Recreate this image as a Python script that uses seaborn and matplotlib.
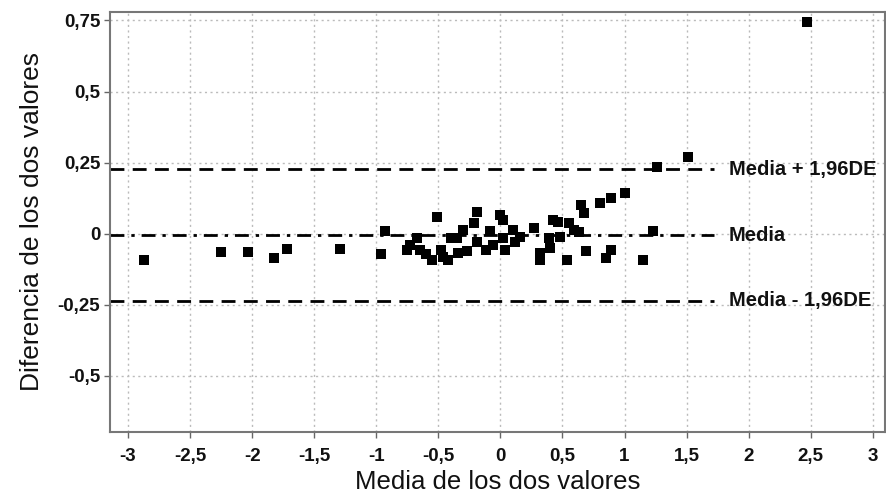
import matplotlib
matplotlib.use("Agg")
import matplotlib.pyplot as plt
import seaborn as sns
import pandas as pd

# mean of the two values (x) and difference (y)
media = [-2.87, -2.25, -2.03, -1.82, -1.72, -1.29, -0.96, -0.93,
         -0.75, -0.73, -0.67, -0.65, -0.60, -0.55, -0.51, -0.48,
         -0.46, -0.42, -0.40, -0.35, -0.34, -0.30, -0.27, -0.21,
         -0.19, -0.19, -0.12, -0.08, -0.06, 0.00, 0.02, 0.02,
         0.04, 0.10, 0.12, 0.16, 0.27, 0.32, 0.32, 0.39,
         0.40, 0.42, 0.46, 0.48, 0.54, 0.55, 0.59, 0.63,
         0.65, 0.67, 0.69, 0.80, 0.89, 1.00, 0.89, 0.85,
         1.15, 1.26, 1.51, 1.23, 2.47]
diferencia = [-0.092, -0.063, -0.063, -0.085, -0.053, -0.053, -0.070, 0.011,
              -0.056, -0.039, -0.014, -0.056, -0.070, -0.092, 0.060, -0.056,
              -0.081, -0.092, -0.014, -0.014, -0.067, 0.014, -0.060, 0.039,
              0.077, -0.028, -0.056, 0.011, -0.039, 0.067, 0.049, -0.014,
              -0.056, 0.014, -0.028, -0.011, 0.021, -0.067, -0.092, -0.014,
              -0.049, 0.049, 0.042, -0.011, -0.092, 0.039, 0.014, 0.007,
              0.102, 0.074, -0.060, 0.109, 0.127, 0.144, -0.056, -0.085,
              -0.092, 0.236, 0.268, 0.011, 0.743]

lineas = [0.226, -0.005, -0.236]
etiquetas = ["Media + 1,96DE", "Media", "Media - 1,96DE"]
estilos = [(0, (5, 3)), (0, (5, 2.5, 1.2, 2.5)), (0, (5, 3))]

x_ticks = [-3, -2.5, -2, -1.5, -1, -0.5, 0, 0.5, 1, 1.5, 2, 2.5, 3]
y_ticks = [0.75, 0.5, 0.25, 0, -0.25, -0.5]

df = pd.DataFrame({"media": media, "diferencia": diferencia})

sns.set_style("whitegrid")
plt.rcParams["font.family"] = ["Liberation Sans", "DejaVu Sans"]

fig = plt.figure(figsize=(8.87, 4.98), dpi=100)
ax = fig.add_axes([0.124, 0.133, 0.874, 0.843])

sns.scatterplot(
    data=df,
    x="media",
    y="diferencia",
    marker="s",
    s=55,
    color="black",
    edgecolor="black",
    linewidth=0,
    ax=ax,
    zorder=3
)

for val, lab, ls in zip(lineas, etiquetas, estilos):
    ax.plot([-3.145, 1.72], [val, val], color="black", lw=2.0,
            linestyle=ls, zorder=2)
    ax.text(1.84, val, lab, ha="left", va="center",
            fontsize=14.5, fontweight="bold", color="#111111")

ax.set_xlim(-3.145, 3.1)
ax.set_ylim(-0.697, 0.78)

ax.set_xticks(x_ticks)
ax.set_xticklabels([f"{t:g}".replace(".", ",") for t in x_ticks])
ax.set_yticks(y_ticks)
ax.set_yticklabels([f"{t:g}".replace(".", ",") for t in y_ticks])

ax.grid(True, color="#bbbbbb", linestyle=(0, (1.5, 2.5)), linewidth=1)
ax.tick_params(axis="both", labelsize=13.5, colors="#111111",
               length=4, width=1, color="#666666", direction="out")
ax.tick_params(axis="x", pad=8)
ax.tick_params(axis="y", pad=3)
ax.tick_params(left=True, bottom=True)
for lab in ax.get_xticklabels() + ax.get_yticklabels():
    lab.set_fontweight("bold")

for sp in ax.spines.values():
    sp.set_color("#777777")
    sp.set_linewidth(1.5)

ax.set_xlabel("Media de los dos valores", fontsize=18.5, color="#111111",
              labelpad=3)
ax.set_ylabel("Diferencia de los dos valores", fontsize=19, color="#111111",
              labelpad=10)

fig.savefig("out.png", dpi=100)
